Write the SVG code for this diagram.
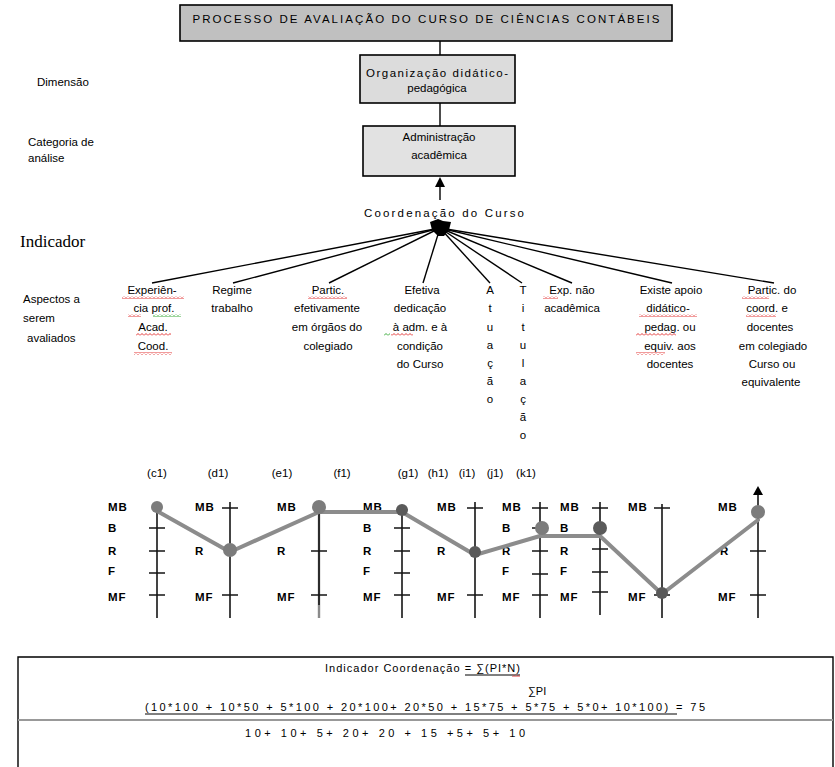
<svg xmlns="http://www.w3.org/2000/svg" width="835" height="767" viewBox="0 0 835 767">
<defs>
<style>
text{font-family:"Liberation Sans",Arial,sans-serif;font-size:11.5px;fill:#000}
.c{text-anchor:middle}
.box{stroke:#000;stroke-width:1.6}
.ln{stroke:#000;stroke-width:1.4;fill:none}
.ax{stroke:#151515;stroke-width:1.6;fill:none}
.ga{stroke:#8a8a8a;stroke-width:2.4;fill:none}
.gl{stroke:#8c8c8c;stroke-width:4;fill:none;stroke-linejoin:round;stroke-linecap:round}
.pt{fill:#7c7c7c}
.pd{fill:#5a5a5a}
.sc{font-weight:bold;font-size:10.5px;letter-spacing:1px}
.f{font-size:11px}
</style>
<pattern id="sqr" width="4" height="3" patternUnits="userSpaceOnUse"><path d="M0 2.5L2 0.5L4 2.5" stroke="#e02020" stroke-width="0.9" fill="none"/></pattern>
<pattern id="sqg" width="4" height="3" patternUnits="userSpaceOnUse"><path d="M0 2.5L2 0.5L4 2.5" stroke="#20a020" stroke-width="0.9" fill="none"/></pattern>
</defs>
<rect width="835" height="767" fill="#fff"/>

<g id="labels">
<text x="37" y="86">Dimensão</text>
<text x="28" y="146">Categoria de</text>
<text x="28" y="162">análise</text>
<text x="20" y="247" style="font-family:'Liberation Serif',serif;font-size:17px">Indicador</text>
<text x="23" y="303">Aspectos a</text>
<text x="23" y="322">serem</text>
<text x="27" y="342">avaliados</text>
</g>

<g id="connectors">
<line class="ln" x1="440" y1="41" x2="440" y2="55"/>
<line class="ln" x1="440" y1="103" x2="440" y2="126"/>
<line class="ln" x1="440" y1="200" x2="440" y2="186"/>
<path d="M435 187L440 177L445 187Z" fill="#000"/>
<g class="ln">
<line x1="440" y1="228" x2="152" y2="283"/>
<line x1="440" y1="228" x2="233" y2="283"/>
<line x1="440" y1="228" x2="329" y2="283"/>
<line x1="440" y1="228" x2="423" y2="283"/>
<line x1="440" y1="228" x2="490" y2="283"/>
<line x1="440" y1="228" x2="522" y2="283"/>
<line x1="440" y1="228" x2="572" y2="283"/>
<line x1="440" y1="228" x2="672" y2="283"/>
<line x1="440" y1="228" x2="774" y2="283"/>
</g>
<path d="M430 222L438 219L443 221L451 222L449 230L444 236L438 236L432 230Z" fill="#000"/>
</g>

<g id="n-processo">
<rect class="box" x="180" y="5" width="492" height="36" fill="#c0c0c0"/>
<text class="c" x="426" y="23" textLength="467" lengthAdjust="spacing">PROCESSO DE AVALIAÇÃO DO CURSO DE CIÊNCIAS CONTÁBEIS</text>
</g>

<g id="n-dimensao">
<rect class="box" x="360" y="55" width="155" height="48" fill="#dcdcdc"/>
<text class="c" x="437" y="77" textLength="142" lengthAdjust="spacing">Organização didático-</text>
<text class="c" x="437" y="92">pedagógica</text>
</g>

<g id="n-categoria">
<rect class="box" x="363" y="126" width="152" height="50" fill="#e2e2e2"/>
<text class="c" x="439" y="141">Administração</text>
<text class="c" x="439" y="159">acadêmica</text>
</g>

<g id="n-indicador">
<text class="c" x="444" y="217" textLength="160" lengthAdjust="spacing">Coordenação do Curso</text>
</g>

<g id="a1">
<text class="c" x="152" y="294">Experiên-</text>
<text class="c" x="154" y="312">cia prof.</text>
<text class="c" x="153" y="331">Acad.</text>
<text class="c" x="153" y="350">Cood.</text>
<rect x="122" y="296" width="62" height="3" fill="url(#sqr)"/>
<rect x="128" y="314" width="13" height="3" fill="url(#sqr)"/>
<rect x="153" y="314" width="28" height="3" fill="url(#sqg)"/>
<rect x="136" y="333" width="35" height="3" fill="url(#sqr)"/>
<rect x="134" y="352" width="38" height="3" fill="url(#sqr)"/>
</g>
<g id="a2">
<text class="c" x="232" y="294">Regime</text>
<text class="c" x="232" y="312">trabalho</text>
</g>
<g id="a3">
<text class="c" x="328" y="294">Partic.</text>
<text class="c" x="327" y="312">efetivamente</text>
<text class="c" x="327" y="331">em órgãos do</text>
<text class="c" x="328" y="350">colegiado</text>
<rect x="308" y="296" width="39" height="3" fill="url(#sqr)"/>
</g>
<g id="a4">
<text class="c" x="422" y="294">Efetiva</text>
<text class="c" x="420" y="312">dedicação</text>
<text class="c" x="420" y="331">à adm. e à</text>
<text class="c" x="420" y="350">condição</text>
<text class="c" x="420" y="368">do Curso</text>
<rect x="384" y="333" width="6" height="3" fill="url(#sqg)"/>
<rect x="391" y="333" width="22" height="3" fill="url(#sqr)"/>
</g>
<g id="a5">
<text class="c" x="490" y="294">A</text>
<text class="c" x="490" y="312">t</text>
<text class="c" x="490" y="331">u</text>
<text class="c" x="490" y="349">a</text>
<text class="c" x="490" y="367">ç</text>
<text class="c" x="490" y="385">ã</text>
<text class="c" x="490" y="403">o</text>
</g>
<g id="a6">
<text class="c" x="523" y="294">T</text>
<text class="c" x="523" y="312">i</text>
<text class="c" x="523" y="331">t</text>
<text class="c" x="523" y="349">u</text>
<text class="c" x="523" y="367">l</text>
<text class="c" x="523" y="385">a</text>
<text class="c" x="523" y="403">ç</text>
<text class="c" x="523" y="421">ã</text>
<text class="c" x="523" y="439">o</text>
</g>
<g id="a7">
<text class="c" x="572" y="294">Exp. não</text>
<text class="c" x="572" y="312">acadêmica</text>
<rect x="543" y="296" width="15" height="3" fill="url(#sqr)"/>
</g>
<g id="a8">
<text class="c" x="671" y="294">Existe apoio</text>
<text class="c" x="668" y="312">didático-</text>
<text class="c" x="670" y="331">pedag. ou</text>
<text class="c" x="670" y="350">equiv. aos</text>
<text class="c" x="670" y="368">docentes</text>
<rect x="639" y="314" width="58" height="3" fill="url(#sqr)"/>
<rect x="636" y="333" width="40" height="3" fill="url(#sqr)"/>
<rect x="636" y="352" width="29" height="3" fill="url(#sqr)"/>
</g>
<g id="a9">
<text class="c" x="772" y="294">Partic. do</text>
<text class="c" x="767" y="312">coord. e</text>
<text class="c" x="770" y="331">docentes</text>
<text class="c" x="773" y="350">em colegiado</text>
<text class="c" x="772" y="368">Curso ou</text>
<text class="c" x="771" y="386">equivalente</text>
<rect x="742" y="296" width="27" height="3" fill="url(#sqr)"/>
<rect x="746" y="314" width="30" height="3" fill="url(#sqr)"/>
</g>

<g id="scale-labels" class="f">
<text class="c" x="157" y="477">(c1)</text>
<text class="c" x="218" y="477">(d1)</text>
<text class="c" x="282" y="477">(e1)</text>
<text class="c" x="342" y="477">(f1)</text>
<text class="c" x="408" y="477">(g1)</text>
<text class="c" x="438" y="477">(h1)</text>
<text class="c" x="467" y="477">(i1)</text>
<text class="c" x="495" y="477">(j1)</text>
<text class="c" x="526" y="477">(k1)</text>
</g>

<g id="axes">
<line class="ax" x1="157" y1="504" x2="157" y2="618"/>
<path class="ax" d="M149 528H165M149 551H165M149 573H165M149 595H165"/>
<line class="ax" x1="230" y1="502" x2="230" y2="618"/>
<path class="ax" d="M222 508H238M222 595H238"/>
<line class="ga" x1="319" y1="507" x2="319" y2="618"/>
<line class="ax" x1="319" y1="507" x2="319" y2="605"/>
<path class="ax" d="M311 551H327M311 595H327"/>
<line class="ax" x1="402" y1="506" x2="402" y2="618"/>
<path class="ax" d="M394 528H410M394 551H410M394 573H410M394 595H410"/>
<line class="ax" x1="475" y1="502" x2="475" y2="618"/>
<path class="ax" d="M467 508H483M467 595H483"/>
<line class="ax" x1="540" y1="502" x2="540" y2="618"/>
<path class="ax" d="M532 508H548M532 528H536M532 551H548M532 574H548M532 595H548"/>
<line class="ax" x1="600" y1="502" x2="600" y2="615"/>
<path class="ax" d="M592 508H608M592 549H608M592 572H608M592 592H608"/>
<line class="ax" x1="662" y1="504" x2="662" y2="618"/>
<path class="ax" d="M654 508H670M654 595H670"/>
<line class="ax" x1="758" y1="494" x2="758" y2="618"/>
<path d="M753 495L758 486L763 495Z" fill="#000"/>
<path class="ax" d="M750 551H766M750 595H766"/>
</g>

<g id="scale-text" class="sc">
<text x="108" y="511">MB</text><text x="108" y="532">B</text><text x="108" y="555">R</text><text x="108" y="575">F</text><text x="108" y="601">MF</text>
<text x="195" y="511">MB</text><text x="195" y="555">R</text><text x="195" y="601">MF</text>
<text x="277" y="511">MB</text><text x="277" y="555">R</text><text x="277" y="601">MF</text>
<text x="363" y="511">MB</text><text x="363" y="532">B</text><text x="363" y="555">R</text><text x="363" y="575">F</text><text x="363" y="601">MF</text>
<text x="437" y="511">MB</text><text x="437" y="555">R</text><text x="437" y="601">MF</text>
<text x="502" y="511">MB</text><text x="502" y="532">B</text><text x="502" y="555">R</text><text x="502" y="575">F</text><text x="502" y="601">MF</text>
<text x="560" y="511">MB</text><text x="560" y="532">B</text><text x="560" y="555">R</text><text x="560" y="575">F</text><text x="560" y="601">MF</text>
<text x="628" y="511">MB</text><text x="628" y="601">MF</text>
<text x="718" y="511">MB</text><text x="720" y="555">R</text><text x="718" y="601">MF</text>
</g>

<g id="profile">
<polyline class="gl" points="157,511 230,552 319,512 402,512 475,555 540,536 600,536 662,594 758,520"/>
<circle class="pt" cx="157" cy="507" r="6"/>
<circle class="pt" cx="230" cy="550" r="7"/>
<circle class="pt" cx="319" cy="507" r="7"/>
<circle class="pd" cx="402" cy="510" r="6"/>
<circle class="pd" cx="475" cy="552" r="6"/>
<circle class="pt" cx="542" cy="528" r="7"/>
<circle class="pd" cx="600" cy="528" r="7"/>
<circle class="pd" cx="662" cy="593" r="6"/>
<circle class="pt" cx="758" cy="512" r="7"/>
</g>

<g id="formula">
<path d="M18 767V657H833V767" fill="none" stroke="#000" stroke-width="1.4"/>
<line x1="18" y1="720" x2="833" y2="720" stroke="#999" stroke-width="2"/>
<text class="f" x="325" y="672" textLength="195" lengthAdjust="spacing">Indicador Coordenação = ∑(PI*N)</text>
<line x1="465" y1="675" x2="520" y2="675" stroke="#000" stroke-width="1"/>
<rect x="512" y="674" width="8" height="3" fill="url(#sqr)"/>
<text class="f" x="528" y="695">∑PI</text>
<text class="f" x="145" y="711" textLength="560" lengthAdjust="spacing">(10*100 + 10*50 + 5*100 + 20*100+ 20*50 + 15*75 + 5*75 + 5*0+ 10*100) = 75</text>
<line x1="145" y1="714" x2="677" y2="714" stroke="#000" stroke-width="1"/>
<text class="f" x="245" y="737" textLength="280" lengthAdjust="spacing">10+ 10+ 5+ 20+ 20 + 15 +5+ 5+ 10</text>
</g>
</svg>
